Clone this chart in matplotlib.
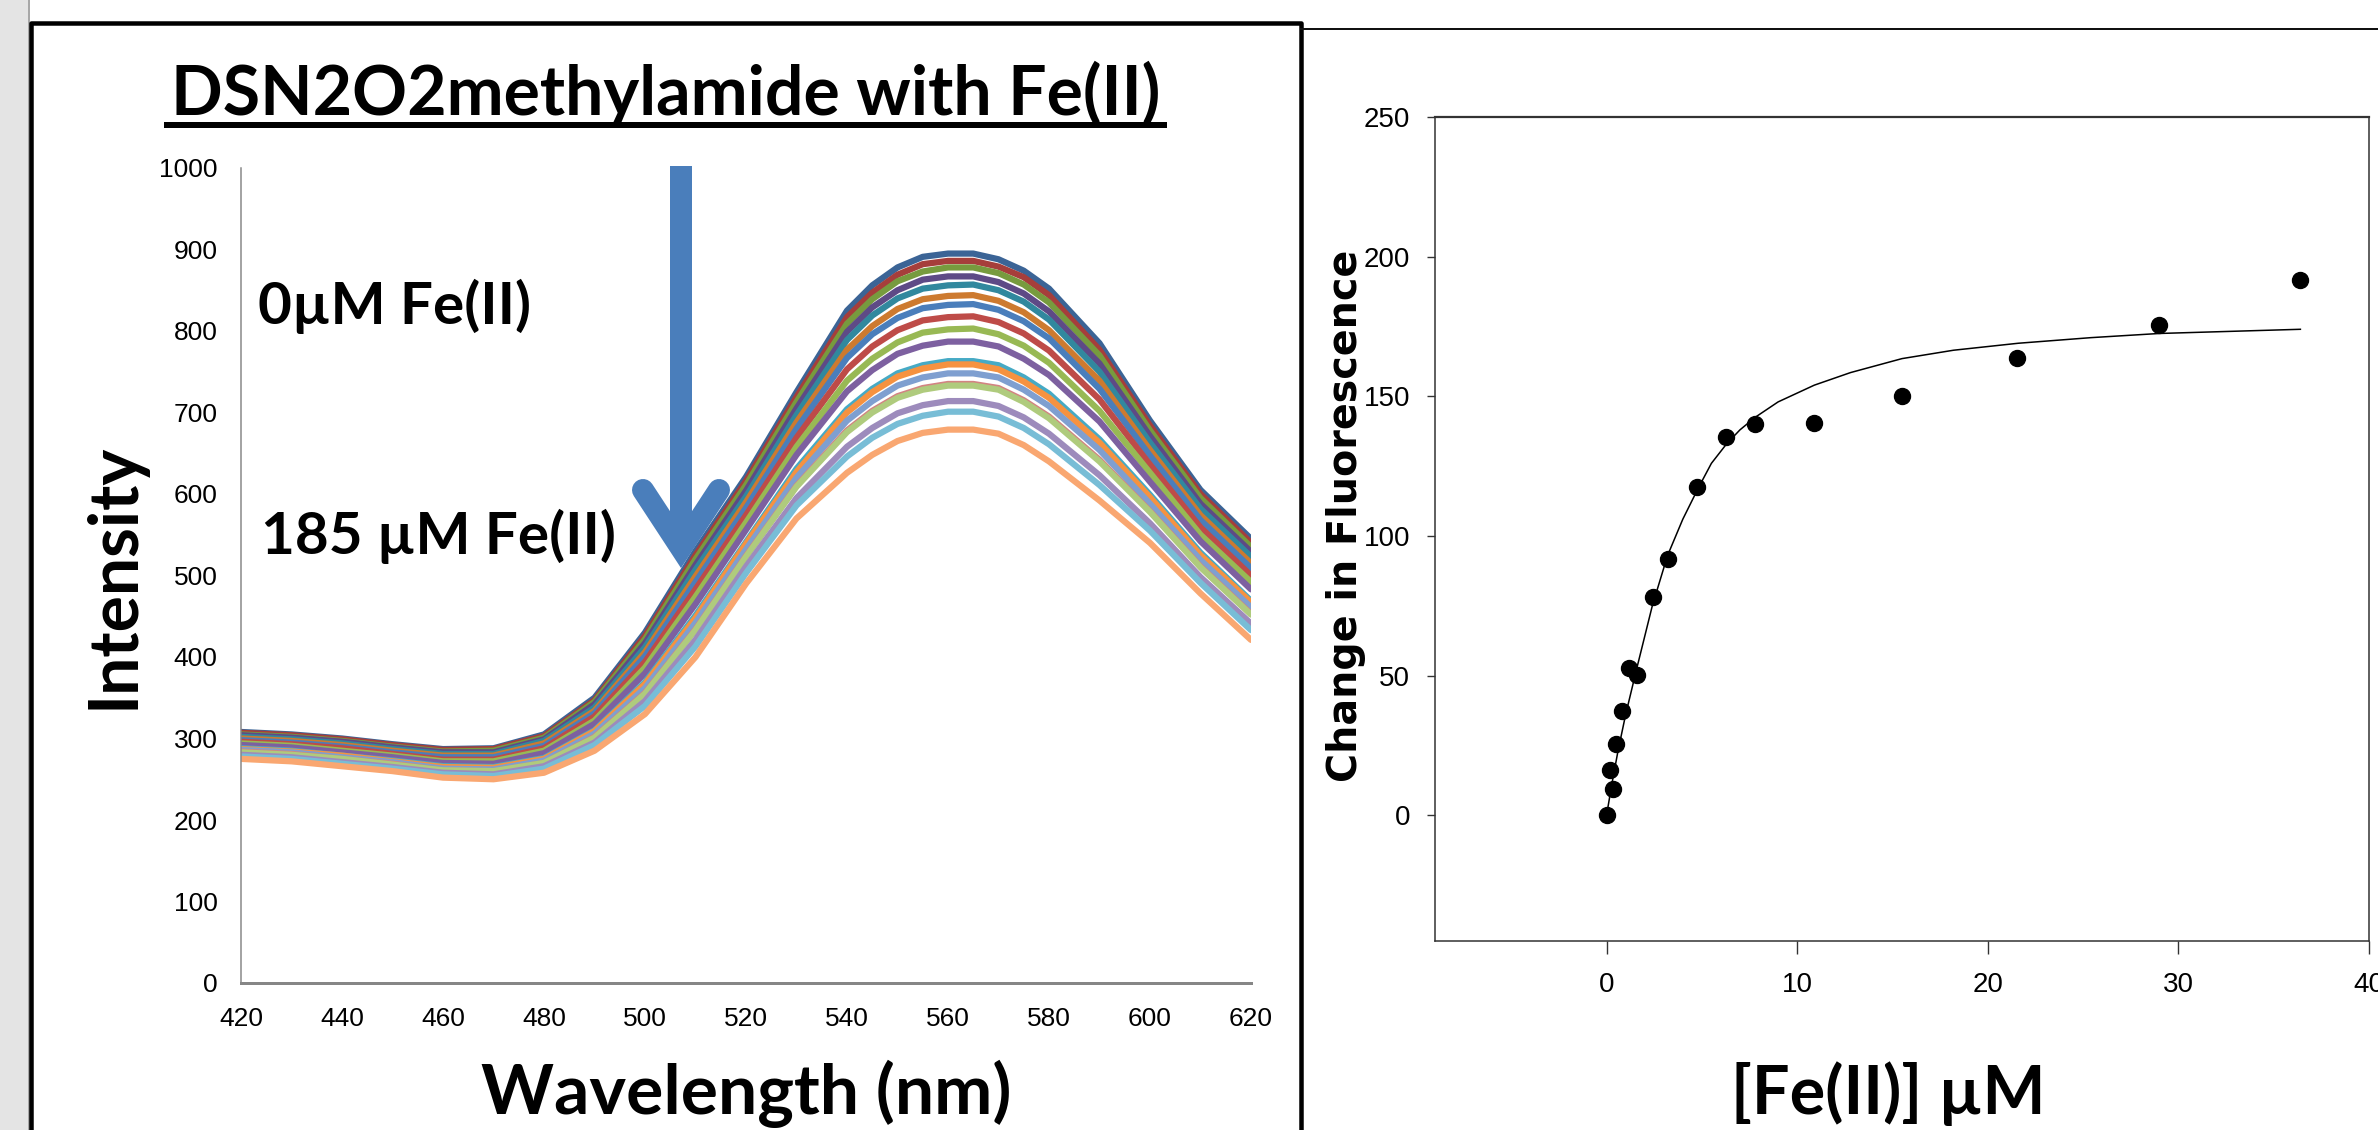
import matplotlib
matplotlib.use("Agg")
import matplotlib.pyplot as plt
from matplotlib.lines import Line2D
from matplotlib.patches import Rectangle

W, H = 2378, 1130

# ── Data: emission spectra (0 µM Fe(II) on top … 185 µM at the bottom) ──
wavelength = [420, 430, 440, 450, 460, 470, 480, 490, 500, 510, 520, 530, 540,
              545, 550, 555, 560, 565, 570, 575, 580, 590, 600, 610, 620]

spec_01 = [308, 305, 300, 293, 287, 288, 305, 350, 430, 530, 621, 725, 825, 856, 878, 891, 895, 895, 888, 874, 852, 785, 690, 605, 545]
spec_02 = [307, 304, 299, 292, 286, 287, 303, 347, 426, 525, 616, 719, 817, 847, 869, 882, 886, 886, 879, 866, 844, 777, 684, 600, 540]
spec_03 = [305, 302, 297, 290, 284, 285, 301, 345, 422, 520, 611, 713, 809, 839, 861, 873, 878, 878, 871, 857, 835, 770, 678, 595, 535]
spec_04 = [304, 301, 296, 289, 283, 283, 299, 342, 417, 513, 604, 705, 799, 829, 850, 863, 867, 867, 860, 846, 824, 760, 671, 588, 529]
spec_05 = [302, 299, 294, 287, 281, 281, 297, 338, 412, 507, 597, 697, 789, 819, 840, 852, 856, 857, 850, 836, 814, 750, 663, 582, 523]
spec_06 = [300, 297, 292, 285, 279, 279, 294, 334, 406, 499, 590, 688, 777, 806, 827, 839, 843, 844, 837, 823, 801, 739, 654, 574, 515]
spec_07 = [298, 295, 290, 283, 277, 277, 291, 331, 401, 492, 583, 680, 767, 796, 816, 828, 832, 833, 826, 812, 791, 729, 647, 568, 509]
spec_08 = [296, 293, 288, 281, 274, 274, 288, 327, 394, 483, 574, 669, 753, 781, 801, 813, 817, 818, 811, 797, 776, 716, 636, 559, 500]
spec_09 = [294, 291, 285, 279, 272, 272, 285, 322, 387, 474, 565, 658, 739, 766, 786, 798, 802, 803, 796, 782, 761, 702, 626, 550, 492]
spec_10 = [292, 289, 283, 277, 270, 269, 282, 318, 380, 465, 556, 648, 726, 752, 772, 782, 787, 787, 781, 766, 746, 689, 615, 542, 483]
spec_11 = [288, 285, 279, 273, 266, 265, 276, 310, 369, 451, 541, 631, 704, 729, 748, 758, 763, 763, 758, 743, 723, 667, 599, 528, 469]
spec_12 = [287, 284, 279, 272, 265, 264, 275, 309, 367, 448, 539, 627, 700, 725, 744, 754, 759, 759, 753, 738, 718, 663, 596, 525, 467]
spec_13 = [286, 283, 277, 271, 263, 262, 273, 306, 362, 442, 532, 620, 690, 714, 733, 743, 748, 748, 743, 728, 708, 654, 588, 519, 461]
spec_14 = [284, 281, 275, 269, 261, 260, 270, 302, 356, 434, 524, 610, 678, 702, 720, 730, 735, 735, 730, 715, 695, 642, 579, 511, 453]
spec_15 = [283, 280, 275, 268, 261, 260, 270, 301, 355, 433, 523, 609, 676, 700, 718, 728, 733, 733, 728, 713, 693, 640, 578, 510, 452]
spec_16 = [280, 277, 271, 265, 258, 256, 266, 295, 346, 421, 511, 595, 658, 681, 699, 709, 714, 714, 708, 694, 674, 623, 564, 498, 441]
spec_17 = [278, 275, 269, 263, 256, 254, 263, 292, 340, 413, 503, 586, 646, 669, 686, 696, 701, 701, 695, 681, 661, 611, 555, 491, 433]
spec_18 = [275, 272, 266, 260, 252, 250, 258, 285, 330, 400, 490, 570, 626, 648, 665, 675, 679, 679, 674, 660, 640, 592, 540, 478, 421]

spectra = [spec_01, spec_02, spec_03, spec_04, spec_05, spec_06,
           spec_07, spec_08, spec_09, spec_10, spec_11, spec_12,
           spec_13, spec_14, spec_15, spec_16, spec_17, spec_18]

# ── Data: titration (change in fluorescence vs [Fe(II)]) ──
fe_conc  = [0.0, 0.18, 0.32, 0.47, 0.79, 1.19, 1.62, 2.42, 3.21, 4.77,
            6.25, 7.8, 10.9, 15.5, 21.55, 29.0, 36.4]
delta_f  = [0.0, 16.1, 9.4, 25.7, 37.5, 52.6, 50.3, 78.1, 91.7, 117.4,
            135.3, 140.1, 140.6, 150.0, 163.6, 175.4, 191.5]

fit_conc  = [0.0, 0.3, 0.6, 1.0, 1.6, 2.4, 3.2, 4.0, 4.8, 5.5, 6.3, 7.0,
             7.8, 9.0, 10.9, 12.8, 15.5, 18.2, 21.6, 25.4, 29.0, 36.4]
fit_delta = [0.0, 12, 23, 36, 53, 75, 93, 106, 117, 126, 133, 138,
             142.5, 148, 154, 158.5, 163.5, 166.5, 169, 171, 172.5, 174]

# ── Style ──
COLORS = ["#3B6496", "#A63E3B", "#779B3E", "#5E4A86", "#31889E", "#CD7A2F",
          "#4A7EBB", "#BE4B48", "#98B954", "#7D60A0", "#46AAC5", "#F69240",
          "#7F9FD0", "#D38382", "#AFCB7D", "#9D8BBC", "#78BDD6", "#F9A771"]
ARROW = "#4A7EBB"
BOLD_FONT = ["Lato", "DejaVu Sans"]
TICK_FONT = ["Liberation Sans Narrow", "Liberation Sans", "DejaVu Sans"]


def fx(x):
    return x / W


def fy(y):
    return 1 - y / H


def px_lw(p):
    return p * 72 / 100


fig = plt.figure(figsize=(W / 100, H / 100), dpi=100)
fig.patch.set_facecolor("white")

# ── Slide frame ──
fig.add_artist(Rectangle((0, 0), fx(28), 1, transform=fig.transFigure,
                         facecolor="#e4e4e4", edgecolor="none", zorder=0))
fig.add_artist(Line2D([fx(29), fx(29)], [0, 1], color="#8a8a8a", lw=px_lw(1.5)))
fig.add_artist(Line2D([fx(31), fx(31), fx(1301), fx(1301)],
                      [fy(1140), fy(23), fy(23), fy(1140)],
                      color="black", lw=px_lw(4.5), solid_joinstyle="round"))
fig.add_artist(Line2D([fx(1301), 1], [fy(29), fy(29)], color="#111111", lw=px_lw(2)))

# ── Left panel: spectra ──
ax1 = fig.add_axes([fx(241), fy(983), (1251 - 241) / W, (983 - 168) / H])
for spec, col in zip(spectra, COLORS):
    ax1.plot(wavelength, spec, color=col, lw=4.5, solid_joinstyle="round",
             solid_capstyle="round")
ax1.set_xlim(420, 620)
ax1.set_ylim(0, 1000)
ax1.set_xticks(range(420, 621, 20))
ax1.set_yticks(range(0, 1001, 100))
ax1.tick_params(length=0, labelsize=19, pad=17)
for lab in ax1.get_xticklabels() + ax1.get_yticklabels():
    lab.set_family(TICK_FONT)
ax1.spines[["top", "right"]].set_visible(False)
ax1.spines["left"].set_color("#868686")
ax1.spines["left"].set_linewidth(px_lw(1.5))
ax1.spines["bottom"].set_color("#868686")
ax1.spines["bottom"].set_linewidth(px_lw(3))

fig.text(fx(666), fy(115), "DSN2O2methylamide with Fe(II)", ha="center",
         va="baseline", fontsize=49, fontweight="bold", family=BOLD_FONT)
fig.add_artist(Line2D([fx(167), fx(1164)], [fy(125), fy(125)],
                      color="black", lw=px_lw(6)))

fig.text(fx(258), fy(324), "0µM Fe(II)", ha="left", va="baseline",
         fontsize=42, fontweight="bold", family=BOLD_FONT)
fig.text(fx(261), fy(554), "185 µM Fe(II)", ha="left", va="baseline",
         fontsize=42, fontweight="bold", family=BOLD_FONT)
fig.text(fx(114), fy(576), "Intensity", ha="center", va="center",
         rotation=90, fontsize=49, fontweight="bold", family=BOLD_FONT)
fig.text(fx(746), fy(1114), "Wavelength (nm)", ha="center", va="baseline",
         fontsize=50, fontweight="bold", family=BOLD_FONT)

# downward arrow
fig.add_artist(Line2D([fx(681), fx(681)], [fy(166), fy(535)], color=ARROW,
                      lw=px_lw(22), solid_capstyle="butt"))
fig.add_artist(Line2D([fx(643), fx(681), fx(719)], [fy(490), fy(548), fy(490)],
                      color=ARROW, lw=px_lw(22), solid_capstyle="round",
                      solid_joinstyle="miter"))

# ── Right panel: titration ──
ax2 = fig.add_axes([fx(1435), fy(941), (2369 - 1435) / W, (941 - 117) / H])
ax2.plot(fit_conc, fit_delta, color="black", lw=1.1, zorder=2)
ax2.plot(fe_conc, delta_f, "o", color="black", ms=11.5, zorder=3)
ax2.set_xlim(-9, 40)
ax2.set_ylim(-45, 250)
ax2.set_xticks([0, 10, 20, 30, 40])
ax2.set_yticks([0, 50, 100, 150, 200, 250])
ax2.tick_params(axis="x", direction="out", length=9, width=1, pad=13,
                labelsize=20, colors="#333333", labelcolor="black")
ax2.tick_params(axis="y", direction="out", length=6, width=1, pad=12,
                labelsize=20, colors="#333333", labelcolor="black")
for lab in ax2.get_xticklabels() + ax2.get_yticklabels():
    lab.set_family(TICK_FONT)
for s in ax2.spines.values():
    s.set_color("#333333")
    s.set_linewidth(1.1)
ax2.spines["top"].set_linewidth(1.6)

fig.text(fx(1346), fy(516), "Change in Fluorescence", ha="center", va="center",
         rotation=90, fontsize=28.5, fontweight="bold", family="DejaVu Sans")
fig.text(fx(1888), fy(1114), "[Fe(II)] µM", ha="center", va="baseline",
         fontsize=48, fontweight="bold", family=BOLD_FONT)

fig.savefig("out.png", dpi=100, facecolor="white")
